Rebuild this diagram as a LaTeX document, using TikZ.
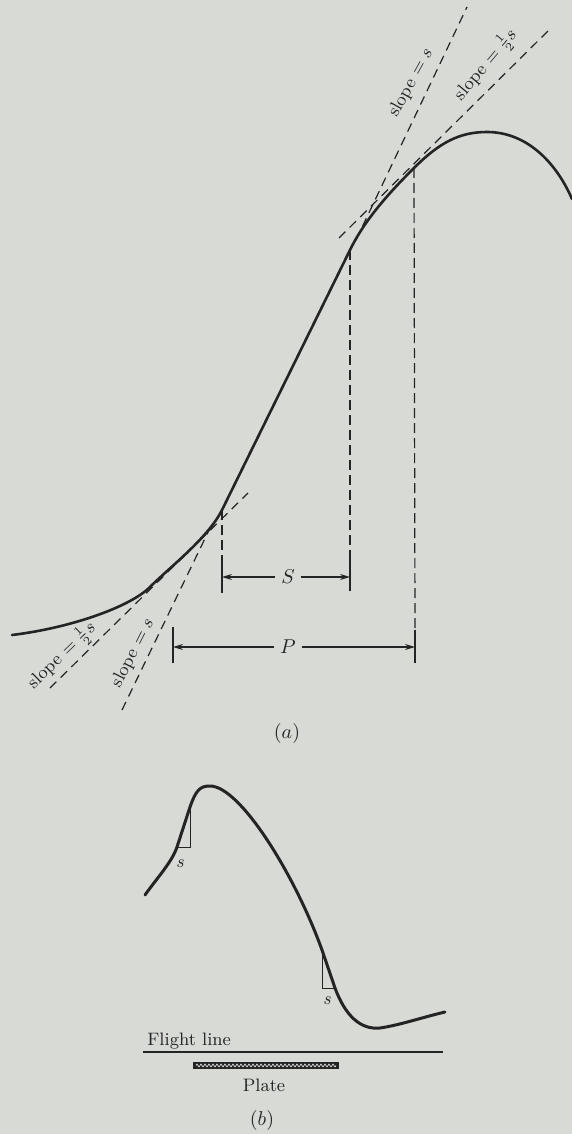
\documentclass[tikz,border=0pt]{standalone}
\usepackage{amsmath}
\usepackage{xcolor}
\usepackage{tikz}
\usetikzlibrary{arrows.meta, positioning, calc, decorations.pathmorphing}

\definecolor{paper}{RGB}{216,218,214}
\definecolor{ink}{RGB}{36,36,36}

\begin{document}
\begin{tikzpicture}[
    x=0.5pt, y=-0.5pt,
    curve/.style={draw=ink, line width=1.3pt, line cap=round, line join=round},
    tangent/.style={draw=ink, line width=0.6pt, dash pattern=on 4.5pt off 3pt},
    drop/.style={draw=ink, line width=0.6pt, dash pattern=on 5pt off 2.5pt},
    bar/.style={draw=ink, line width=0.8pt},
    dimension/.style={-{Stealth[length=5pt, width=3pt]}, draw=ink, line width=0.6pt},
    slope_label/.style={font=\small, text=ink, inner sep=1pt},
    dim_label/.style={font=\normalsize, text=ink, inner sep=3pt},
    plain_label/.style={font=\small, text=ink, inner sep=1pt},
    thin_line/.style={draw=ink, line width=0.5pt}
]

    % --- PAPER ---
    \fill[paper] (0,0) rectangle (572,1134);
    \useasboundingbox (0,0) rectangle (572,1134);

    % --- (a): CURVE ---
    \coordinate (lowHalf) at (150,587);   % slope = 1/2 s (lower)
    \coordinate (lowS) at (222,510);      % start of steep part
    \coordinate (highS) at (350,250);     % end of steep part
    \coordinate (highHalf) at (414,168);  % slope = 1/2 s (upper)
    \coordinate (peakA) at (487,132);

    \draw[curve] (12,635) .. controls (70,628) and (130,607) .. (lowHalf)
        .. controls (170,567) and (208,538) .. (lowS)
        -- (highS)
        .. controls (366,217) and (394,188) .. (highHalf)
        .. controls (440,142) and (460,132) .. (peakA)
        .. controls (525,132) and (555,160) .. (572,199);

    % --- (a): TANGENTS ---
    \coordinate (tanLowHalfA) at (50,688);
    \coordinate (tanLowHalfB) at (248,493);
    \coordinate (tanLowSA) at (122,710);
    \coordinate (tanLowSB) at (212,524);
    \coordinate (tanHighSA) at (356,240);
    \coordinate (tanHighSB) at (467,7);
    \coordinate (tanHighHalfA) at (339,238);
    \coordinate (tanHighHalfB) at (551,28);

    \draw[tangent] (tanLowHalfA) -- (tanLowHalfB);
    \draw[tangent] (tanLowSA) -- (tanLowSB);
    \draw[tangent] (tanHighSA) -- (tanHighSB);
    \draw[tangent] (tanHighHalfA) -- (tanHighHalfB);

    \node[slope_label, rotate=44] (lblLowHalf) at (62,656) {slope $=\frac{1}{2}s$};
    \node[slope_label, rotate=63] (lblLowS) at (133,653) {slope $=s$};
    \node[slope_label, rotate=61] (lblHighS) at (411,83) {slope $=s$};
    \node[slope_label, rotate=50] (lblHighHalf) at (486,65) {slope $=\frac{1}{2}s$};

    % --- (a): S AND P ---
    \coordinate (sLeft) at (222,577);
    \coordinate (sRight) at (350,577);
    \coordinate (pLeft) at (173,647);
    \coordinate (pRight) at (415,647);

    \draw[drop] (lowS) -- (222,560);
    \draw[drop] (highS) -- (350,558);
    \draw[drop] (highHalf) -- (415,630);

    \draw[bar] (222,560) -- (222,593);
    \draw[bar] (350,558) -- (350,591);
    \draw[bar] (173,627) -- (173,663);
    \draw[bar] (415,630) -- (415,663);

    \node[dim_label] (sLabel) at (288,577) {$S$};
    \node[dim_label] (pLabel) at (288,647) {$P$};
    \draw[dimension] (sLabel) -- (sLeft);
    \draw[dimension] (sLabel) -- (sRight);
    \draw[dimension] (pLabel) -- (pLeft);
    \draw[dimension] (pLabel) -- (pRight);

    \node[dim_label] (capA) at (287,733) {$(a)$};

    % --- (b): PROFILE ---
    \coordinate (triOneTop) at (190,807);
    \coordinate (triOneBot) at (177,847);
    \coordinate (triTwoTop) at (322,950);
    \coordinate (triTwoBot) at (335,988);

    \draw[curve, line width=1.5pt] (145,895) .. controls (157,878) and (172,862) .. (triOneBot)
        -- (triOneTop)
        .. controls (196,790) and (200,786) .. (210,786)
        .. controls (240,786) and (295,875) .. (triTwoTop)
        -- (triTwoBot)
        .. controls (345,1015) and (360,1030) .. (380,1028)
        .. controls (400,1025) and (420,1018) .. (445,1012);

    \draw[thin_line] (triOneTop) -- (190,847) -- (triOneBot);
    \draw[thin_line] (triTwoTop) -- (322,988) -- (triTwoBot);
    \node[font=\small\itshape, text=ink] (sOne) at (180,864) {s};
    \node[font=\small\itshape, text=ink] (sTwo) at (327,1001) {s};

    % --- (b): FLIGHT LINE AND PLATE ---
    \coordinate (flightA) at (143,1052);
    \coordinate (flightB) at (443,1052);
    \draw[thin_line, line width=0.7pt] (flightA) -- (flightB);
    \node[plain_label, anchor=base west] (flight) at (145,1045) {Flight line};

    \fill[ink] (193,1062) rectangle (339,1069);
    \draw[white, line width=0.3pt, decorate,
        decoration={zigzag, amplitude=0.7pt, segment length=2pt}] (196,1065.5) -- (336,1065.5);
    \node[plain_label] (plate) at (264,1085) {Plate};

    \node[dim_label] (capB) at (262,1120) {$(b)$};

\end{tikzpicture}
\end{document}
